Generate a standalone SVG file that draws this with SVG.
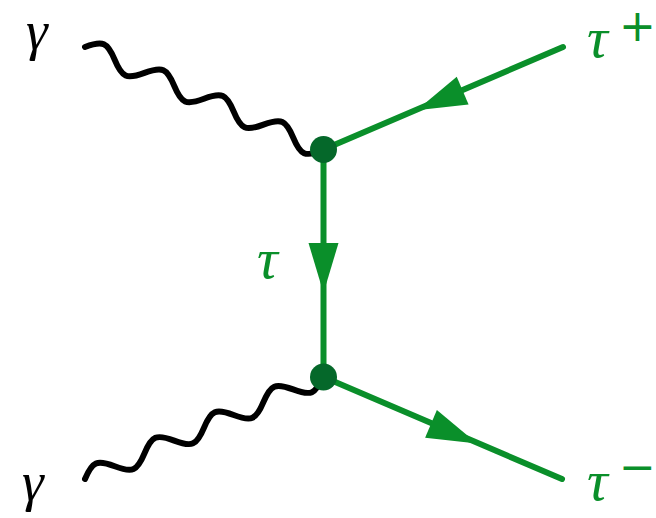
<svg xmlns="http://www.w3.org/2000/svg" xmlns:xlink="http://www.w3.org/1999/xlink" width="656" height="518" viewBox="0 0 656 518">
<style>
.photon{fill:none;stroke:#000;stroke-width:6;stroke-linecap:round;stroke-linejoin:round}
.fermion{fill:none;stroke:#0a8f2a;stroke-width:6;stroke-linecap:round}
.arr{fill:#0a8f2a}
.vtx{fill:#05682a}
.lbl{font-family:"Liberation Serif","DejaVu Serif",serif;font-style:italic;font-size:58px}
.gam{font-size:55px}
.g{fill:#0a8f2a}
.sup{font-family:"DejaVu Sans","Liberation Sans",sans-serif;font-size:44px;fill:#0a8f2a}
</style>
<defs>
<path id="wave" d="M0,0 c13.79,-13.3 18.71,-13.3 32.5,0 c13.79,13.3 18.71,13.3 32.5,0 c13.79,-13.3 18.71,-13.3 32.5,0 c13.79,13.3 18.71,13.3 32.5,0 c13.79,-13.3 18.71,-13.3 32.5,0 c13.79,13.3 18.71,13.3 32.5,0 c13.79,-13.3 18.71,-13.3 32.5,0 c13.79,13.3 18.71,13.3 32.5,0"/>
<polygon id="ah" points="0,0 -50,-15 -50,15"/>
</defs>
<g id="connectors">
<use xlink:href="#wave" class="photon" transform="translate(85,47) rotate(23.5) scale(0.998,1)"/>
<use xlink:href="#wave" class="photon" transform="translate(85,479) rotate(-23.29) scale(0.996,1)"/>
<line class="fermion" x1="563" y1="47" x2="323.5" y2="149.5"/>
<line class="fermion" x1="323.5" y1="149.5" x2="323.5" y2="377"/>
<line class="fermion" x1="323.5" y1="377" x2="562" y2="479"/>
<use xlink:href="#ah" class="arr" transform="translate(416.7,110.3) rotate(156.8)"/>
<use xlink:href="#ah" class="arr" transform="translate(323.5,293) rotate(90)"/>
<use xlink:href="#ah" class="arr" transform="translate(477,443.5) rotate(23.1)"/>
</g>
<g id="v1"><circle class="vtx" cx="323.5" cy="149.5" r="13.5"/></g>
<g id="v2"><circle class="vtx" cx="323.5" cy="377" r="13.5"/></g>
<g id="gamma1"><text class="lbl gam" x="26" y="49">γ</text></g>
<g id="gamma2"><text class="lbl gam" x="22" y="500">γ</text></g>
<g id="tauplus"><text class="lbl g" x="587" y="57">τ</text><text class="sup" x="619" y="41">+</text></g>
<g id="taumid"><text class="lbl g" x="257" y="278">τ</text></g>
<g id="tauminus"><text class="lbl g" x="587" y="500">τ</text><text class="sup" x="619" y="482">−</text></g>
</svg>
